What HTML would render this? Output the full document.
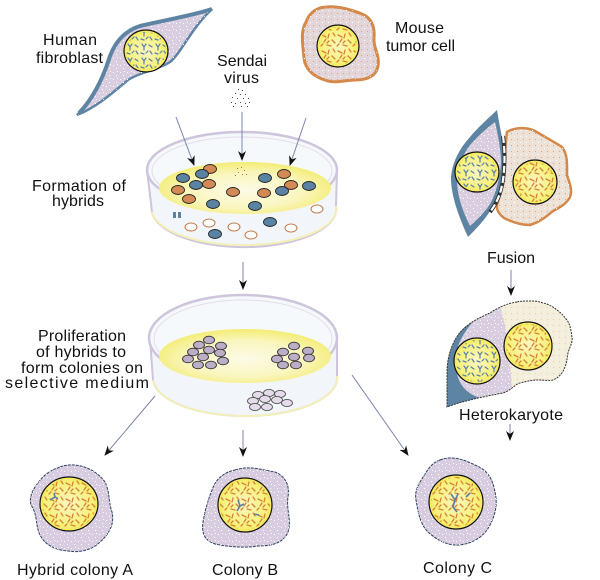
<!DOCTYPE html>
<html><head><meta charset="utf-8">
<style>
html,body{margin:0;padding:0;background:#fff;}
svg{display:block;}
text{font-family:"Liberation Sans",Arial,sans-serif;font-size:16px;fill:#111;}
</style></head>
<body>
<svg width="600" height="580" viewBox="0 0 600 580" xmlns="http://www.w3.org/2000/svg">
<defs>
  <pattern id="co" width="16" height="16" patternUnits="userSpaceOnUse">
    <path d="M2,3 l4,2 M9,2 l-1,4 M12,8 l3,3 M4,10 l2,-3 M7,13 l4,1 M1,14 l2,-2 M13,1 l2,3 M9,9 l-2,2" stroke="#d98235" stroke-width="1.3" stroke-linecap="round" fill="none"/>
  </pattern>
  <pattern id="cb" width="14" height="14" patternUnits="userSpaceOnUse">
    <path d="M2,2 l2,3 l2,-3 M4,5 l0,3 M9,3 l3,2 M10,9 l2,3 M1,11 l3,1 M6,11 l2,-2" stroke="#5a80a8" stroke-width="1.2" stroke-linecap="round" fill="none"/>
  </pattern>
  <pattern id="sp" width="7" height="7" patternUnits="userSpaceOnUse">
    <rect x="1" y="2" width="1" height="1" fill="#fff"/>
    <rect x="4" y="5" width="1" height="1" fill="#fff"/>
    <rect x="5" y="1" width="1" height="1" fill="#fff"/>
  </pattern>
  <pattern id="so" width="6" height="6" patternUnits="userSpaceOnUse">
    <rect x="1" y="1" width="1" height="1" fill="#e7a070"/>
    <rect x="4" y="4" width="1" height="1" fill="#fff"/>
  </pattern>
  <radialGradient id="med" cx="0.5" cy="0.55" r="0.6">
    <stop offset="0" stop-color="#fcfbe6"/>
    <stop offset="0.55" stop-color="#faf6c0"/>
    <stop offset="1" stop-color="#f2ea62"/>
  </radialGradient>
  <radialGradient id="nuc" cx="0.5" cy="0.5" r="0.55">
    <stop offset="0" stop-color="#fbf7c2"/>
    <stop offset="0.7" stop-color="#f7f27e"/>
    <stop offset="1" stop-color="#f1e34c"/>
  </radialGradient>
  <marker id="ah" markerWidth="10" markerHeight="8" refX="9" refY="4" orient="auto" markerUnits="userSpaceOnUse">
    <path d="M0,0 L10,4 L0,8 L3,4 Z" fill="#111"/>
  </marker>
</defs>

<!-- Human fibroblast -->
<path d="M212,9 C195,15 165,20 140,26 C122,32 113,45 108,62 C102,80 92,100 77,115 C95,108 110,95 128,80 C140,72 158,70 170,62 C182,52 190,30 212,9 Z" fill="#d9cee0" stroke="#5e84a3" stroke-width="2.5"/>
<path d="M212,9 C195,15 165,20 140,26 C122,32 113,45 108,62 C102,80 92,100 77,115 C95,108 110,95 128,80 C140,72 158,70 170,62 C182,52 190,30 212,9 Z" fill="url(#sp)"/>
<path d="M212,9 C195,15 165,20 140,26 C122,32 113,45 108,62 C102,80 92,100 79,113" fill="none" stroke="#5e84a3" stroke-width="4"/>
<ellipse cx="146" cy="51" rx="22" ry="21" fill="url(#nuc)" stroke="#111" stroke-width="1.2"/>
<ellipse cx="146" cy="51" rx="20" ry="19" fill="url(#cb)"/>

<!-- Mouse tumor cell -->
<path d="M320,8 C335,4 352,10 362,14 C372,18 375,28 374,38 C373,48 380,55 378,66 C376,77 366,80 355,80 C345,80 335,84 325,80 C315,77 305,70 304,58 C303,45 300,32 306,22 C309,14 314,10 320,8 Z" fill="#e2d6da" stroke="#d4884a" stroke-width="3"/>
<path d="M320,8 C335,4 352,10 362,14 C372,18 375,28 374,38 C373,48 380,55 378,66 C376,77 366,80 355,80 C345,80 335,84 325,80 C315,77 305,70 304,58 C303,45 300,32 306,22 C309,14 314,10 320,8 Z" fill="url(#so)"/>
<circle cx="338" cy="46" r="21" fill="url(#nuc)" stroke="#111" stroke-width="1.2"/>
<circle cx="338" cy="46" r="19" fill="url(#co)"/>

<!-- labels top -->
<text x="43" y="45" textLength="54" lengthAdjust="spacing">Human</text>
<text x="36" y="63" textLength="67" lengthAdjust="spacing">fibroblast</text>
<text x="217" y="66" textLength="50" lengthAdjust="spacing">Sendai</text>
<text x="224" y="83" textLength="35" lengthAdjust="spacing">virus</text>
<text x="395" y="33" textLength="49" lengthAdjust="spacing">Mouse</text>
<text x="386" y="51" textLength="69" lengthAdjust="spacing">tumor cell</text>

<!-- Sendai dots -->
<g fill="#444">
<rect x="238" y="89" width="1" height="1"/><rect x="242" y="90" width="1" height="1"/><rect x="235" y="93" width="1" height="1"/><rect x="240" y="94" width="1" height="1"/><rect x="245" y="94" width="1" height="1"/><rect x="232" y="97" width="1" height="1"/><rect x="237" y="98" width="1" height="1"/><rect x="243" y="98" width="1" height="1"/><rect x="248" y="98" width="1" height="1"/><rect x="231" y="102" width="1" height="1"/><rect x="235" y="103" width="1" height="1"/><rect x="240" y="102" width="1" height="1"/><rect x="245" y="103" width="1" height="1"/><rect x="249" y="102" width="1" height="1"/><rect x="233" y="106" width="1" height="1"/><rect x="241" y="106" width="1" height="1"/><rect x="247" y="106" width="1" height="1"/>
</g>

<!-- Dish 1 -->
<path d="M147,170 L152,212 A92,38 0 0 0 336,206 L337,170 A95,38 0 0 0 147,170 Z" fill="#f2f6fa" stroke="#cdc5dc" stroke-width="2"/>
<ellipse cx="242" cy="170" rx="95" ry="38" fill="#f6f9fc" stroke="#cdc5dc" stroke-width="2.5"/>
<ellipse cx="242" cy="171" rx="90" ry="34" fill="none" stroke="#e2dcea" stroke-width="1"/>
<ellipse cx="245" cy="188" rx="86" ry="26" fill="url(#med)"/>
<path d="M152,212 A92,36 0 0 0 336,206" fill="none" stroke="#f3efb8" stroke-width="2"/>
<g stroke="#222" stroke-width="0.9">
<ellipse cx="210" cy="169" rx="6.5" ry="4.5" fill="#d48a55"/>
<ellipse cx="202" cy="174" rx="6.5" ry="4.5" fill="#5a82a2"/>
<ellipse cx="183" cy="178" rx="6.5" ry="4.5" fill="#5a82a2"/>
<ellipse cx="196" cy="185" rx="6.5" ry="4.5" fill="#5a82a2"/>
<ellipse cx="209" cy="184" rx="6.5" ry="4.5" fill="#d48a55"/>
<ellipse cx="178" cy="190" rx="6.5" ry="4.5" fill="#d48a55"/>
<ellipse cx="189" cy="199" rx="6.5" ry="4.5" fill="#d48a55"/>
<ellipse cx="213" cy="204" rx="6.5" ry="4.5" fill="#5a82a2"/>
<ellipse cx="233" cy="192" rx="6.5" ry="4.5" fill="#d48a55"/>
<ellipse cx="255" cy="206" rx="6.5" ry="4.5" fill="#5a82a2"/>
<ellipse cx="264" cy="193" rx="6.5" ry="4.5" fill="#d48a55"/>
<ellipse cx="265" cy="178" rx="6.5" ry="4.5" fill="#5a82a2"/>
<ellipse cx="284" cy="174" rx="6.5" ry="4.5" fill="#d48a55"/>
<ellipse cx="291" cy="185" rx="6.5" ry="4.5" fill="#d48a55"/>
<ellipse cx="282" cy="191" rx="6.5" ry="4.5" fill="#5a82a2"/>
<ellipse cx="309" cy="186" rx="6.5" ry="4.5" fill="#5a82a2"/>
<ellipse cx="215" cy="234" rx="6.5" ry="4.5" fill="#5a82a2"/>
<ellipse cx="270" cy="222" rx="6.5" ry="4.5" fill="#5a82a2"/>
</g>
<g stroke="#c07a4a" stroke-width="1" fill="#fff">
<ellipse cx="191" cy="227" rx="6" ry="4"/>
<ellipse cx="209" cy="223" rx="6" ry="4"/>
<ellipse cx="234" cy="227" rx="6" ry="4"/>
<ellipse cx="251" cy="235" rx="6" ry="4"/>
<ellipse cx="291" cy="228" rx="6" ry="4"/>
<ellipse cx="317" cy="209" rx="6" ry="4"/>
</g>
<rect x="173" y="212" width="3" height="6" fill="#5a82a2"/><rect x="178" y="212" width="3" height="6" fill="#5a82a2"/>
<g fill="#c06a3a">
<rect x="237" y="168" width="1" height="1"/><rect x="241" y="167" width="1" height="1"/><rect x="244" y="170" width="1" height="1"/><rect x="238" y="172" width="1" height="1"/><rect x="242" y="174" width="1" height="1"/><rect x="235" y="175" width="1" height="1"/><rect x="246" y="174" width="1" height="1"/>
</g>

<!-- arrows -->
<g stroke="#7d86aa" stroke-width="1" fill="none" marker-end="url(#ah)">
<line x1="176" y1="117" x2="194" y2="165"/>
<line x1="242" y1="112" x2="242" y2="160"/>
<line x1="306" y1="118" x2="290" y2="165"/>
<line x1="243" y1="262" x2="243" y2="289"/>
<line x1="155" y1="396" x2="105" y2="455"/>
<line x1="243" y1="430" x2="243" y2="456"/>
<line x1="352" y1="375" x2="408" y2="455"/>
<line x1="511" y1="270" x2="511" y2="295"/>
<line x1="510" y1="424" x2="510" y2="440"/>
</g>

<text x="32" y="191" textLength="94" lengthAdjust="spacing">Formation of</text>
<text x="52" y="206" textLength="52" lengthAdjust="spacing">hybrids</text>

<!-- Dish 2 -->
<path d="M150,338 L153,380 A92,38 0 0 0 337,376 L337,338 A94,43 0 0 0 150,338 Z" fill="#f2f6fa" stroke="#cdc5dc" stroke-width="2"/>
<ellipse cx="243" cy="338" rx="94" ry="43" fill="#f6f9fc" stroke="#cdc5dc" stroke-width="2.5"/>
<ellipse cx="243" cy="339" rx="89" ry="39" fill="none" stroke="#e2dcea" stroke-width="1"/>
<ellipse cx="245" cy="356" rx="86" ry="27" fill="url(#med)"/>
<path d="M153,380 A92,38 0 0 0 337,376" fill="none" stroke="#f3efb8" stroke-width="2"/>
<g stroke="#333" stroke-width="0.9" fill="#bcaec6">
<ellipse cx="209" cy="340" rx="5.5" ry="3.8"/>
<ellipse cx="199" cy="345" rx="5.5" ry="3.8"/>
<ellipse cx="221" cy="346" rx="5.5" ry="3.8"/>
<ellipse cx="193" cy="352" rx="5.5" ry="3.8"/>
<ellipse cx="209" cy="350" rx="5.5" ry="3.8"/>
<ellipse cx="220" cy="353" rx="5.5" ry="3.8"/>
<ellipse cx="188" cy="359" rx="5.5" ry="3.8"/>
<ellipse cx="203" cy="357" rx="5.5" ry="3.8"/>
<ellipse cx="223" cy="361" rx="5.5" ry="3.8"/>
<ellipse cx="198" cy="365" rx="5.5" ry="3.8"/>
<ellipse cx="211" cy="365" rx="5.5" ry="3.8"/>
<ellipse cx="294" cy="346" rx="5.5" ry="3.8"/>
<ellipse cx="283" cy="352" rx="5.5" ry="3.8"/>
<ellipse cx="308" cy="351" rx="5.5" ry="3.8"/>
<ellipse cx="277" cy="359" rx="5.5" ry="3.8"/>
<ellipse cx="294" cy="357" rx="5.5" ry="3.8"/>
<ellipse cx="309" cy="358" rx="5.5" ry="3.8"/>
<ellipse cx="283" cy="365" rx="5.5" ry="3.8"/>
<ellipse cx="296" cy="365" rx="5.5" ry="3.8"/>
</g>
<g stroke="#555" stroke-width="0.9" fill="#e4dcea">
<ellipse cx="258" cy="395" rx="5.5" ry="3.6"/>
<ellipse cx="269" cy="393" rx="5.5" ry="3.6"/>
<ellipse cx="280" cy="394" rx="5.5" ry="3.6"/>
<ellipse cx="253" cy="401" rx="5.5" ry="3.6"/>
<ellipse cx="265" cy="399" rx="5.5" ry="3.6"/>
<ellipse cx="277" cy="400" rx="5.5" ry="3.6"/>
<ellipse cx="287" cy="403" rx="5.5" ry="3.6"/>
<ellipse cx="255" cy="407" rx="5.5" ry="3.6"/>
<ellipse cx="267" cy="407" rx="5.5" ry="3.6"/>
</g>

<text x="38" y="341" textLength="88" lengthAdjust="spacing">Proliferation</text>
<text x="36" y="357" textLength="90" lengthAdjust="spacing">of hybrids to</text>
<text x="21" y="373" textLength="122" lengthAdjust="spacing">form colonies on</text>
<text x="5" y="388" textLength="144" lengthAdjust="spacing">selective medium</text>

<!-- Fusion cell -->
<path d="M507,132 C515,127 527,127 535,131 C545,137 556,143 562,147 C568,155 567,165 567,175 C569,182 573,190 570,197 C566,205 558,208 553,211 C547,216 540,222 530,225 C520,225 512,222 504,218 C499,214 496,210 497,205 C500,195 503,185 504,175 C505,160 505,145 507,132 Z" fill="#ece2d8" stroke="#d4884a" stroke-width="2.5"/>
<path d="M507,132 C515,127 527,127 535,131 C545,137 556,143 562,147 C568,155 567,165 567,175 C569,182 573,190 570,197 C566,205 558,208 553,211 C547,216 540,222 530,225 C520,225 512,222 504,218 C499,214 496,210 497,205 C500,195 503,185 504,175 C505,160 505,145 507,132 Z" fill="url(#so)"/>
<path d="M497,110 C490,117 480,125 470,137 C460,148 452,162 451,178 C451,195 458,215 468,237 C475,230 485,220 492,208 C499,195 504,178 505,163 C505,148 500,130 497,110 Z" fill="#5e84a3"/>
<path d="M495,122 C487,128 478,136 470,145 C462,156 457,168 457,180 C457,195 462,210 470,226 C477,220 485,212 490,204 C496,193 500,178 501,163 C501,150 498,135 495,122 Z" fill="#d9cee0"/>
<path d="M495,122 C487,128 478,136 470,145 C462,156 457,168 457,180 C457,195 462,210 470,226 C477,220 485,212 490,204 C496,193 500,178 501,163 C501,150 498,135 495,122 Z" fill="url(#sp)"/>
<path d="M503,136 C505,150 505,165 503,180 C501,193 497,203 490,212" fill="none" stroke="#333" stroke-width="4"/>
<path d="M503,136 C505,150 505,165 503,180 C501,193 497,203 490,212" fill="none" stroke="#fff" stroke-width="2.2" stroke-dasharray="7,3"/>
<ellipse cx="477" cy="172" rx="22" ry="20" fill="url(#nuc)" stroke="#111" stroke-width="1.2"/>
<ellipse cx="477" cy="172" rx="20" ry="18" fill="url(#cb)"/>
<circle cx="535" cy="182" r="22" fill="url(#nuc)" stroke="#111" stroke-width="1.2"/>
<circle cx="535" cy="182" r="20" fill="url(#co)"/>

<text x="487" y="263" textLength="48" lengthAdjust="spacing">Fusion</text>

<!-- Heterokaryote -->
<clipPath id="hk">
<path d="M517,302 C508,303 497,308 490,313 C478,318 465,325 458,335 C450,347 447,360 447,373 C447,385 447,397 447,407 C455,404 462,402 470,400 C482,397 492,395 503,393 C512,390 515,384 520,383 C528,381 533,380 537,380 C544,380 550,381 553,380 C560,377 563,372 565,367 C567,362 567,358 568,353 C570,346 573,342 572,337 C571,330 570,324 567,320 C563,315 560,312 557,310 C552,306 548,304 543,303 C538,301 534,301 530,301 C525,301 521,301 517,302 Z"/>
</clipPath>
<g clip-path="url(#hk)">
<rect x="440" y="295" width="140" height="120" fill="#f4eedc"/>
<rect x="440" y="295" width="140" height="120" fill="url(#so)" opacity="0.5"/>
<path d="M440,300 L498,300 C505,318 510,350 512,395 L440,410 Z" fill="#d9cee0"/>
<path d="M440,300 L498,300 C505,318 510,350 512,395 L440,410 Z" fill="url(#sp)"/>
<path d="M440,300 L490,300 C478,318 462,330 457,350 C454,370 456,390 480,398 L440,412 Z" fill="#5e84a3"/>
</g>
<path d="M517,302 C508,303 497,308 490,313 C478,318 465,325 458,335 C450,347 447,360 447,373 C447,385 447,397 447,407 C455,404 462,402 470,400 C482,397 492,395 503,393 C512,390 515,384 520,383 C528,381 533,380 537,380 C544,380 550,381 553,380 C560,377 563,372 565,367 C567,362 567,358 568,353 C570,346 573,342 572,337 C571,330 570,324 567,320 C563,315 560,312 557,310 C552,306 548,304 543,303 C538,301 534,301 530,301 C525,301 521,301 517,302 Z" fill="none" stroke="#333" stroke-width="1" stroke-dasharray="2,1"/>
<circle cx="477" cy="361" r="23" fill="url(#nuc)" stroke="#111" stroke-width="1.2"/>
<circle cx="477" cy="361" r="21" fill="url(#cb)"/>
<circle cx="528" cy="346" r="24" fill="url(#nuc)" stroke="#111" stroke-width="1.2"/>
<circle cx="528" cy="346" r="22" fill="url(#co)"/>

<text x="459" y="420" textLength="104" lengthAdjust="spacing">Heterokaryote</text>

<!-- Colony A -->
<path d="M60,467 C75,461 95,468 105,482 C110,492 108,500 112,512 C115,525 108,535 100,542 C92,550 80,553 68,551 C55,550 45,545 40,535 C35,525 38,515 31,505 C28,495 36,485 42,478 C48,472 52,470 60,467 Z" fill="#d8cde0" stroke="#2f4260" stroke-width="1" stroke-dasharray="3,1"/>
<path d="M60,467 C75,461 95,468 105,482 C110,492 108,500 112,512 C115,525 108,535 100,542 C92,550 80,553 68,551 C55,550 45,545 40,535 C35,525 38,515 31,505 C28,495 36,485 42,478 C48,472 52,470 60,467 Z" fill="url(#sp)"/>
<ellipse cx="69" cy="504" rx="29" ry="27" fill="url(#nuc)" stroke="#111" stroke-width="1.2"/>
<ellipse cx="69" cy="504" rx="27" ry="25" fill="url(#co)"/>
<path d="M50,500 l5,-3 l3,2 M55,497 l-1,-4" stroke="#5a80a8" stroke-width="1.6" fill="none"/>

<!-- Colony B -->
<path d="M235,470 C250,465 262,470 275,472 C285,476 290,485 288,497 C286,510 292,520 288,532 C283,544 270,546 258,546 C245,548 232,547 220,545 C206,543 201,535 203,522 C205,510 208,500 212,490 C216,478 225,472 235,470 Z" fill="#d8cde0" stroke="#2f4260" stroke-width="1" stroke-dasharray="3,1"/>
<path d="M235,470 C250,465 262,470 275,472 C285,476 290,485 288,497 C286,510 292,520 288,532 C283,544 270,546 258,546 C245,548 232,547 220,545 C206,543 201,535 203,522 C205,510 208,500 212,490 C216,478 225,472 235,470 Z" fill="url(#sp)"/>
<circle cx="245" cy="505" r="27" fill="url(#nuc)" stroke="#111" stroke-width="1.2"/>
<circle cx="245" cy="505" r="25" fill="url(#co)"/>
<path d="M238,500 l2,6 l-3,5 M240,506 l4,-2 M254,514 l5,1" stroke="#5a80a8" stroke-width="1.6" fill="none"/>

<!-- Colony C -->
<path d="M440,460 C452,455 465,460 475,465 C488,470 493,480 495,492 C498,505 495,515 490,525 C485,535 475,543 460,545 C447,546 437,540 428,532 C420,524 418,512 416,500 C414,490 420,482 425,474 C430,466 434,462 440,460 Z" fill="#d8cde0" stroke="#2f4260" stroke-width="1" stroke-dasharray="3,1"/>
<path d="M440,460 C452,455 465,460 475,465 C488,470 493,480 495,492 C498,505 495,515 490,525 C485,535 475,543 460,545 C447,546 437,540 428,532 C420,524 418,512 416,500 C414,490 420,482 425,474 C430,466 434,462 440,460 Z" fill="url(#sp)"/>
<circle cx="456" cy="502" r="27" fill="url(#nuc)" stroke="#111" stroke-width="1.2"/>
<circle cx="456" cy="502" r="25" fill="url(#co)"/>
<path d="M451,494 l4,6 l3,-6 M455,500 l-2,7 l4,5 M466,497 l4,-4" stroke="#5a80a8" stroke-width="1.6" fill="none"/>

<text x="17" y="575" textLength="116" lengthAdjust="spacing">Hybrid colony A</text>
<text x="212" y="575" textLength="66" lengthAdjust="spacing">Colony B</text>
<text x="423" y="573" textLength="69" lengthAdjust="spacing">Colony C</text>
</svg>
</body></html>
